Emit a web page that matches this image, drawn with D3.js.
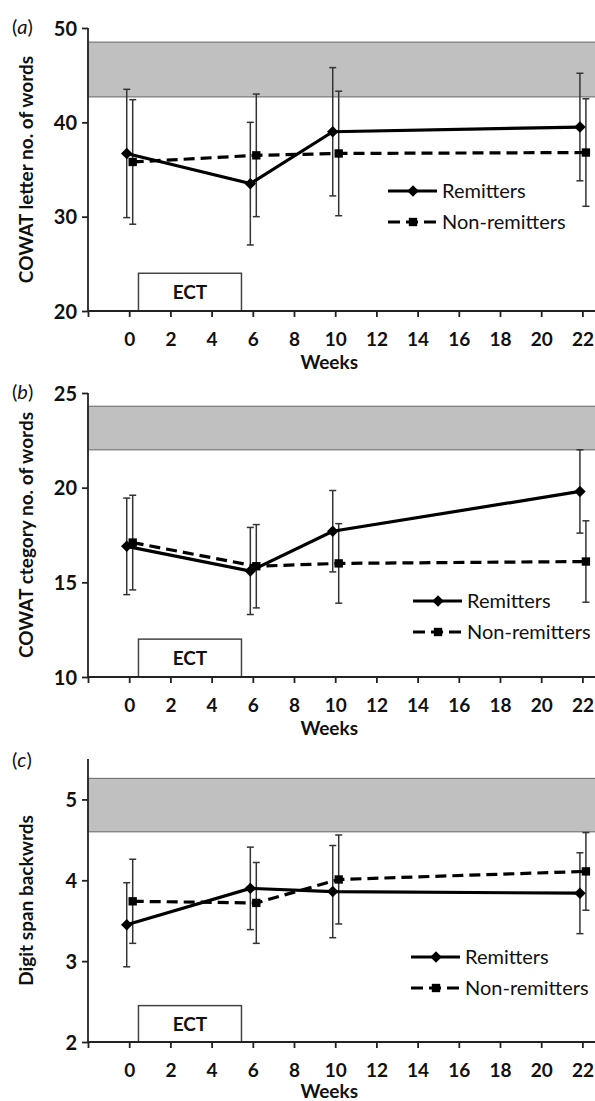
<!DOCTYPE html>
<html>
<head>
<meta charset="utf-8">
<script src="https://cdn.jsdelivr.net/npm/d3@7"></script>
<style>
  body { margin: 0; background: #fff; }
  text { font-family: Lato, "Liberation Sans", sans-serif; fill: #111; }
</style>
</head>
<body>
<div id="chart-container"></div>
<script>
(function() {
  'use strict';

// data
const weeks = [0, 6, 10, 22];
const xTicks = [-2, 0, 2, 4, 6, 8, 10, 12, 14, 16, 18, 20, 22];
const panelLetters = ['a', 'b', 'c'];
const yTitles = ['COWAT letter no. of words', 'COWAT ctegory no. of words', 'Digit span backwrds'];
const yDomains = [[20, 50], [10, 25], [2, 5.5]];
const yTicks = [[20, 30, 40, 50], [10, 15, 20, 25], [2, 3, 4, 5]];

const remitA = [36.7, 33.5, 39.0, 39.5];
const remitErrA = [6.8, 6.5, 6.8, 5.7];
const nonA = [35.8, 36.5, 36.7, 36.8];
const nonErrA = [6.6, 6.5, 6.6, 5.7];

const remitB = [16.9, 15.6, 17.7, 19.8];
const remitErrB = [2.55, 2.3, 2.15, 2.2];
const nonB = [17.1, 15.85, 16.0, 16.1];
const nonErrB = [2.5, 2.2, 2.1, 2.15];

const remitC = [3.45, 3.9, 3.86, 3.84];
const remitErrC = [0.52, 0.51, 0.57, 0.5];
const nonC = [3.74, 3.72, 4.01, 4.11];
const nonErrC = [0.52, 0.5, 0.55, 0.48];

const normBands = [[42.7, 48.5], [22.0, 24.3], [4.6, 5.26]];
const ectTops = [24, 12, 2.45];
const ectWeeks = [0.45, 5.45];
const seriesNames = ['Remitters', 'Non-remitters'];

const W = 595;
const H = 1101;

// layout of the three panels (pixel tops/bottoms of the y axes)
const panels = [
  { top: 28, bottom: 311, legX: 388, legY: 191 },
  { top: 393, bottom: 677, legX: 413, legY: 601 },
  { top: 759, bottom: 1042, legX: 411, legY: 957 }
];
const remitData = [remitA, remitB, remitC];
const remitErr = [remitErrA, remitErrB, remitErrC];
const nonData = [nonA, nonB, nonC];
const nonErr = [nonErrA, nonErrB, nonErrC];

const svg = d3.select('#chart-container')
  .append('svg')
    .attr('width', W)
    .attr('height', H);

const xScale = d3.scaleLinear()
  .domain([-2, 23])
  .range([88, 603]);

// diamond = square turned 45 degrees
const diamond = d3.symbol().type(d3.symbolSquare).size(66);
const square = d3.symbol().type(d3.symbolSquare).size(70);

panels.forEach(function(p, i) {
  const yScale = d3.scaleLinear()
    .domain(yDomains[i])
    .range([p.bottom, p.top]);

  const g = svg.append('g');

  // normative band
  g.append('rect')
    .attr('x', xScale(-2))
    .attr('y', yScale(normBands[i][1]))
    .attr('width', W - xScale(-2) + 2)
    .attr('height', yScale(normBands[i][0]) - yScale(normBands[i][1]))
    .attr('fill', '#c0c0c0')
    .attr('stroke', '#777')
    .attr('stroke-width', 1.2);

  // ECT box
  g.append('rect')
    .attr('x', xScale(ectWeeks[0]))
    .attr('y', yScale(ectTops[i]))
    .attr('width', xScale(ectWeeks[1]) - xScale(ectWeeks[0]))
    .attr('height', p.bottom - yScale(ectTops[i]))
    .attr('fill', '#fff')
    .attr('stroke', '#444')
    .attr('stroke-width', 1.5);
  g.append('text')
    .attr('x', xScale((ectWeeks[0] + ectWeeks[1]) / 2))
    .attr('y', (p.bottom + yScale(ectTops[i])) / 2 + 7)
    .attr('text-anchor', 'middle')
    .attr('font-weight', 'bold')
    .attr('font-size', 19)
    .text('ECT');

  // axes
  const xAxis = d3.axisBottom(xScale)
    .tickValues(xTicks)
    .tickSize(6)
    .tickFormat((d) => d < 0 ? '' : d);
  const gx = g.append('g')
    .attr('transform', `translate(0, ${p.bottom})`)
    .call(xAxis);
  gx.select('.domain').attr('d', `M${xScale(-2)},0H${W}`);

  const yAxis = d3.axisLeft(yScale)
    .tickValues(yTicks[i])
    .tickSize(6)
    .tickFormat(d3.format('d'));
  const gy = g.append('g')
    .attr('transform', `translate(${xScale(-2)}, 0)`)
    .call(yAxis);
  gy.select('.domain').attr('d', `M0,${p.top}V${p.bottom}`);

  g.selectAll('.domain, .tick line')
    .attr('stroke', '#222')
    .attr('stroke-width', 1.8);
  gx.selectAll('.tick text')
    .attr('dy', 0)
    .attr('y', 35)
    .attr('font-size', 19)
    .attr('font-weight', 'bold')
    .attr('font-family', 'Lato, sans-serif')
    .attr('fill', '#111');
  gy.selectAll('.tick text')
    .attr('x', -11)
    .attr('dy', '0.35em')
    .attr('font-size', 20)
    .attr('font-weight', 'bold')
    .attr('font-family', 'Lato, sans-serif')
    .attr('fill', '#111');

  g.append('text')
    .attr('x', xScale(10) - 6)
    .attr('y', Math.min(p.bottom + 58, H - 3))
    .attr('text-anchor', 'middle')
    .attr('font-weight', 'bold')
    .attr('font-size', 19)
    .text('Weeks');

  g.append('text')
    .attr('transform', `translate(33, ${(p.top + p.bottom) / 2}) rotate(-90)`)
    .attr('text-anchor', 'middle')
    .attr('font-weight', 'bold')
    .attr('font-size', 19)
    .text(yTitles[i]);

  const lab = g.append('text')
    .attr('x', 12)
    .attr('y', i == 2 ? p.top + 8 : p.top + 6)
    .attr('font-size', 20);
  lab.append('tspan').text('(');
  lab.append('tspan').attr('font-style', 'italic').text(panelLetters[i]);
  lab.append('tspan').text(')');

  // series
  const series = [
    { vals: remitData[i], err: remitErr[i], shift: -0.12, dash: null, sym: diamond, rot: 45 },
    { vals: nonData[i], err: nonErr[i], shift: 0.17, dash: '11,6', sym: square, rot: 0 }
  ];

  // error bars first
  series.forEach(function(s) {
    const pts = weeks.map((w, j) => ({ w: w + s.shift, v: s.vals[j], e: s.err[j] }));
    const eb = g.append('g').attr('stroke', '#333').attr('stroke-width', 1.5);
    eb.selectAll('line.bar')
      .data(pts)
      .enter()
      .append('line')
        .attr('x1', (d) => xScale(d.w))
        .attr('x2', (d) => xScale(d.w))
        .attr('y1', (d) => yScale(d.v + d.e))
        .attr('y2', (d) => yScale(d.v - d.e));
    [1, -1].forEach(function(sign) {
      eb.selectAll(null)
        .data(pts)
        .enter()
        .append('line')
          .attr('x1', (d) => xScale(d.w) - 3.5)
          .attr('x2', (d) => xScale(d.w) + 3.5)
          .attr('y1', (d) => yScale(d.v + sign * d.e))
          .attr('y2', (d) => yScale(d.v + sign * d.e));
    });
  });

  series.forEach(function(s) {
    const pts = weeks.map((w, j) => ({ w: w + s.shift, v: s.vals[j] }));
    const line = d3.line()
      .x((d) => xScale(d.w))
      .y((d) => yScale(d.v));
    g.append('path')
      .datum(pts)
      .attr('d', line)
      .attr('fill', 'none')
      .attr('stroke', '#000')
      .attr('stroke-width', 3.2)
      .attr('stroke-dasharray', s.dash);
    g.selectAll(null)
      .data(pts)
      .enter()
      .append('path')
        .attr('d', s.sym)
        .attr('transform', (d) => `translate(${xScale(d.w)}, ${yScale(d.v)}) rotate(${s.rot})`)
        .attr('fill', '#000');
  });

  // legend
  series.forEach(function(s, k) {
    const ly = p.legY + k * 31;
    g.append('line')
      .attr('x1', p.legX)
      .attr('x2', p.legX + 49)
      .attr('y1', ly)
      .attr('y2', ly)
      .attr('stroke', '#000')
      .attr('stroke-width', 3.2)
      .attr('stroke-dasharray', k == 1 ? '12,6' : null);
    g.append('path')
      .attr('d', s.sym)
      .attr('transform', `translate(${p.legX + 25}, ${ly}) rotate(${s.rot})`)
      .attr('fill', '#000');
    g.append('text')
      .attr('x', p.legX + 54)
      .attr('y', ly + 7)
      .attr('font-size', 20)
      .text(seriesNames[k]);
  });
});

})();
</script>
</body>
</html>
